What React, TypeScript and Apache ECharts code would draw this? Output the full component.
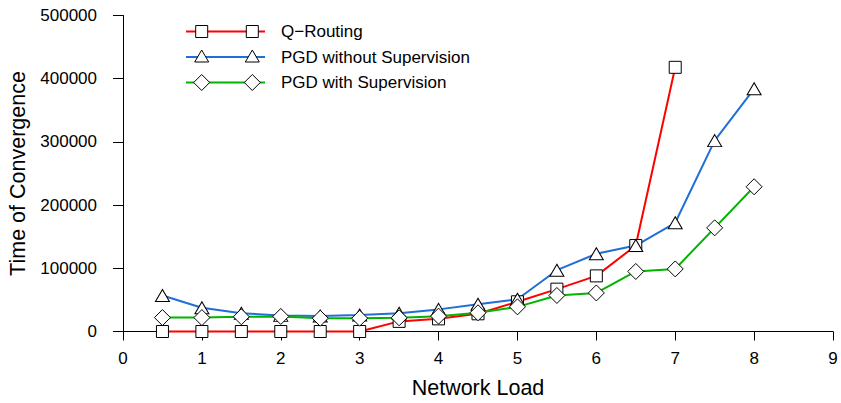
import React, { useEffect, useRef } from "react";
import * as echarts from "echarts";

const loads = [0.5, 1, 1.5, 2, 2.5, 3, 3.5, 4, 4.5, 5, 5.5, 6, 6.5, 7, 7.5, 8];
const qRouting = [0, 0, 0, 0, 0, 0, 16000, 20000, 28000, 47000, 67000, 88000, 136000, 418000];
const pgdWithout = [57000, 37500, 29000, 25500, 24500, 26000, 29000, 35000, 43000, 51000, 97000, 123000, 136000, 172000, 302000, 384000];
const pgdWith = [22000, 22000, 23300, 23800, 21000, 21000, 21700, 24300, 29600, 39000, 57000, 61000, 95000, 99000, 164000, 229000];
const seriesNames = ["Q\u2212Routing", "PGD without Supervision", "PGD with Supervision"];
const colors = ["#ff0000", "#1f6fd6", "#00b400"];
const xAxisTitle = "Network Load";
const yAxisTitle = "Time of Convergence";

const FONT = "'Liberation Sans', Arial, Helvetica, sans-serif";

function pairs(vals: number[]) {
  return vals.map((v, i) => [loads[i], v]);
}

export default function App() {
  const ref = useRef<HTMLDivElement>(null);
  useEffect(() => {
    if (!ref.current) return;
    const chart = echarts.init(ref.current, undefined, { renderer: "svg" });
    const markerStyle = { color: "#ffffff", borderColor: "#000000", borderWidth: 1 };
    const mkSeries = (name: string, data: number[], color: string, symbol: string, size: any) => ({
      type: "line",
      name,
      data: pairs(data),
      symbol,
      symbolSize: size,
      showAllSymbol: true,
      clip: false,
      lineStyle: { color, width: 2 },
      itemStyle: markerStyle,
      emphasis: { disabled: true },
    });

    // legend drawn as graphics
    const legendRows = [31.5, 57, 82.5];
    const lx1 = 186, lx2 = 265, m1 = 201.7, m2 = 252.3, tx = 281;
    const legendGraphics: any[] = [];
    const markerShape = (kind: number, x: number, y: number) => {
      const st = { fill: "#ffffff", stroke: "#000000", lineWidth: 1 };
      if (kind === 0) return { type: "rect", shape: { x: x - 6, y: y - 6, width: 12, height: 12 }, style: st, z: 10 };
      if (kind === 1) return { type: "polygon", shape: { points: [[x - 7, y + 5], [x + 7, y + 5], [x, y - 7]] }, style: st, z: 10 };
      return { type: "polygon", shape: { points: [[x - 8, y], [x, y - 8], [x + 8, y], [x, y + 8]] }, style: st, z: 10 };
    };
    seriesNames.forEach((n, i) => {
      const y = legendRows[i];
      legendGraphics.push({ type: "line", shape: { x1: lx1, y1: y, x2: lx2, y2: y }, style: { stroke: colors[i], lineWidth: 2 }, z: 5 });
      legendGraphics.push(markerShape(i, m1, y));
      legendGraphics.push(markerShape(i, m2, y));
      legendGraphics.push({ type: "text", x: tx, y, style: { text: n, fill: "#000", fontSize: 17, fontFamily: FONT, verticalAlign: "middle", align: "left" }, z: 10 });
    });

    chart.setOption({
      animation: false,
      backgroundColor: "#ffffff",
      grid: { left: 123, right: 8, top: 15.5, bottom: 71.5, containLabel: false, outerBoundsMode: "none" },
      xAxis: {
        type: "value",
        min: 0,
        max: 9,
        interval: 1,
        splitLine: { show: false },
        axisLine: { show: true, onZero: false, lineStyle: { color: "#000", width: 1 } },
        axisTick: { show: true, length: 9, lineStyle: { color: "#000", width: 1 } },
        axisLabel: { fontSize: 17, color: "#000", margin: 18, fontFamily: FONT },
        name: xAxisTitle,
        nameLocation: "middle",
        nameGap: 45,
        nameTextStyle: { fontSize: 21.5, color: "#000", fontFamily: FONT },
      },
      yAxis: {
        type: "value",
        min: 0,
        max: 500000,
        interval: 100000,
        splitLine: { show: false },
        axisLine: { show: true, onZero: false, lineStyle: { color: "#000", width: 1 } },
        axisTick: { show: true, length: 10, lineStyle: { color: "#000", width: 1 } },
        axisLabel: { fontSize: 17, color: "#000", margin: 26, fontFamily: FONT, formatter: (v: number) => String(v) },
        name: yAxisTitle,
        nameLocation: "middle",
        nameGap: 91,
        nameRotate: 90,
        nameTextStyle: { fontSize: 21.5, color: "#000", fontFamily: FONT },
      },
      series: [
        mkSeries(seriesNames[0], qRouting, colors[0], "rect", 12),
        mkSeries(seriesNames[1], pgdWithout, colors[1], "triangle", [14, 12]),
        mkSeries(seriesNames[2], pgdWith, colors[2], "diamond", [16, 16]),
      ],
      graphic: legendGraphics,
    });
    return () => chart.dispose();
  }, []);
  return <div ref={ref} style={{ position: "fixed", left: 0, top: 0, width: 841, height: 403, background: "#fff" }} />;
}
